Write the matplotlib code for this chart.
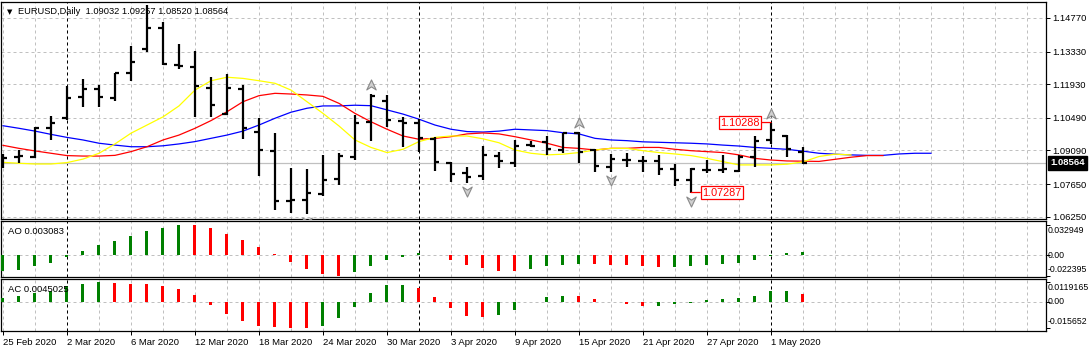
import numpy as np
import matplotlib
matplotlib.use("Agg")
import matplotlib.pyplot as plt
from matplotlib.path import Path
from matplotlib.transforms import offset_copy

# ---------------- data ----------------
symbol = "EURUSD,Daily"
date_ticks = [0, 4, 8, 12, 16, 20, 24, 28, 32, 36, 40, 44, 48]
date_labels = ["25 Feb 2020", "2 Mar 2020", "6 Mar 2020", "12 Mar 2020", "18 Mar 2020",
               "24 Mar 2020", "30 Mar 2020", "3 Apr 2020", "9 Apr 2020", "15 Apr 2020",
               "21 Apr 2020", "27 Apr 2020", "1 May 2020"]
month_starts = [4, 26, 48]

opens = [1.0882, 1.0882, 1.0882, 1.1004, 1.1047, 1.1137, 1.1171, 1.1135, 1.1240, 1.1343,
         1.1436, 1.1275, 1.1268, 1.1175, 1.1064, 1.1171, 1.0990, 1.0908, 1.0694, 1.0697,
         1.0722, 1.0786, 1.0882, 1.1032, 1.1122, 1.1035, 1.1025, 1.0957, 1.0854, 1.0811,
         1.0799, 1.0885, 1.0854, 1.0932, 1.0947, 1.0911, 1.0983, 1.0911, 1.0840, 1.0868,
         1.0865, 1.0865, 1.0828, 1.0782, 1.0825, 1.0825, 1.0822, 1.0880, 1.0954, 1.0971,
         1.09032]
highs = [1.0892, 1.0911, 1.1008, 1.1057, 1.1185, 1.1214, 1.1190, 1.1243, 1.1357, 1.1533,
         1.1461, 1.1366, 1.1336, 1.1223, 1.1237, 1.1190, 1.1050, 1.0985, 1.0832, 1.0829,
         1.0890, 1.0897, 1.1061, 1.1153, 1.1147, 1.1054, 1.1043, 1.0968, 1.0861, 1.0837,
         1.0928, 1.0904, 1.0954, 1.0951, 1.0971, 1.0985, 1.0990, 1.0914, 1.0893, 1.0897,
         1.0885, 1.0890, 1.0851, 1.0832, 1.0868, 1.0890, 1.0890, 1.0971, 1.10288, 1.0975,
         1.09257]
lows = [1.0832, 1.0857, 1.0875, 1.0954, 1.1040, 1.1094, 1.1097, 1.1121, 1.1208, 1.1333,
        1.1275, 1.1258, 1.1054, 1.1054, 1.1061, 1.0957, 1.0801, 1.0654, 1.0642, 1.0636,
        1.0714, 1.0762, 1.0868, 1.0950, 1.1011, 1.0925, 1.0904, 1.0822, 1.0775, 1.0768,
        1.0782, 1.0832, 1.0840, 1.0922, 1.0890, 1.0900, 1.0857, 1.0818, 1.0815, 1.0840,
        1.0818, 1.0804, 1.0757, 1.07287, 1.0814, 1.0814, 1.0818, 1.0837, 1.0937, 1.0882,
        1.08520]
closes = [1.0878, 1.0885, 1.1004, 1.1025, 1.1133, 1.1171, 1.1137, 1.1240, 1.1287, 1.1436,
          1.1280, 1.1271, 1.1186, 1.1104, 1.1178, 1.1004, 1.0911, 1.0694, 1.0697, 1.0725,
          1.0784, 1.0885, 1.1028, 1.1142, 1.1040, 1.1025, 1.0961, 1.0861, 1.0807, 1.0797,
          1.0890, 1.0864, 1.0928, 1.0930, 1.0914, 1.0982, 1.0904, 1.0842, 1.0871, 1.0868,
          1.0865, 1.0828, 1.0782, 1.0828, 1.0825, 1.0828, 1.0880, 1.0951, 1.0997, 1.0914,
          1.08564]

# Alligator lines (they extend past the last bar)
jaw = [1.1015, 1.1004, 1.0992, 1.0978, 1.0965, 1.0954, 1.0940, 1.0932, 1.0925, 1.0925,
       1.0929, 1.0937, 1.0947, 1.0961, 1.0975, 1.0992, 1.1018, 1.1047, 1.1073, 1.1090,
       1.1100, 1.1100, 1.1103, 1.1101, 1.1083, 1.1065, 1.1043, 1.1018, 1.1000, 1.0990,
       1.0988, 1.0992, 1.1000, 1.0997, 1.0994, 1.0985, 1.0980, 1.0961, 1.0954, 1.0951,
       1.0946, 1.0944, 1.0942, 1.0940, 1.0937, 1.0932, 1.0928, 1.0922, 1.0918, 1.0914,
       1.0906, 1.0897, 1.0893, 1.0890, 1.0888, 1.0888, 1.0894, 1.0897, 1.0897]
teeth = [1.0931, 1.0918, 1.0907, 1.0897, 1.0887, 1.0885, 1.0885, 1.0888, 1.0904, 1.0925,
         1.0954, 1.0975, 1.1004, 1.1037, 1.1075, 1.1118, 1.1144, 1.1154, 1.1151, 1.1147,
         1.1141, 1.1111, 1.1068, 1.1032, 1.1000, 1.0971, 1.0957, 1.0961, 1.0968, 1.0980,
         1.0984, 1.0980, 1.0968, 1.0954, 1.0940, 1.0922, 1.0918, 1.0911, 1.0918, 1.0918,
         1.0922, 1.0922, 1.0914, 1.0908, 1.0904, 1.0900, 1.0890, 1.0875, 1.0868, 1.0864,
         1.0863, 1.0862, 1.0871, 1.0880, 1.0887, 1.0887]
lips = [1.0858, 1.0854, 1.0851, 1.0851, 1.0857, 1.0872, 1.0897, 1.0937, 1.0983, 1.1018,
        1.1053, 1.1100, 1.1168, 1.1208, 1.1223, 1.1218, 1.1208, 1.1197, 1.1168, 1.1118,
        1.1068, 1.1014, 1.0954, 1.0922, 1.0900, 1.0914, 1.0947, 1.0965, 1.0971, 1.0971,
        1.0959, 1.0942, 1.0911, 1.0897, 1.0890, 1.0893, 1.0900, 1.0911, 1.0918, 1.0918,
        1.0908, 1.0900, 1.0894, 1.0887, 1.0875, 1.0861, 1.0847, 1.0847, 1.0847, 1.0850,
        1.0860, 1.0883, 1.0893, 1.0890]

ao = [-0.0172, -0.0154, -0.0111, -0.0079, -0.0015, 0.0047, 0.0115, 0.0154, 0.0208, 0.0261,
      0.0294, 0.032949, 0.0325, 0.0294, 0.0229, 0.0165, 0.0090, 0.0018, -0.0072, -0.0147,
      -0.0205, -0.022395, -0.0175, -0.0111, -0.0050, -0.0018, 0.0020, 0.0004, -0.0050, -0.0104,
      -0.0136, -0.0168, -0.0170, -0.0147, -0.0115, -0.0104, -0.0093, -0.0094, -0.0105, -0.0106,
      -0.0115, -0.0125, -0.0123, -0.0115, -0.0104, -0.0093, -0.0082, -0.0050, -0.0005, 0.0020,
      0.003083]
ac = [0.0024, 0.0036, 0.0054, 0.0068, 0.0094, 0.0108, 0.0119165, 0.0117, 0.0108, 0.0106,
      0.0098, 0.0078, 0.0042, -0.0018, -0.0072, -0.0114, -0.0144, -0.0152, -0.0155, -0.015652,
      -0.0142, -0.0096, -0.0030, 0.0054, 0.0102, 0.0103, 0.0084, 0.0030, -0.0036, -0.0084,
      -0.0090, -0.0078, -0.0048, 0.0003, 0.0030, 0.0036, 0.0035, 0.0018, -0.0002, -0.0012,
      -0.0024, -0.0022, -0.0012, -0.0004, 0.0012, 0.0018, 0.0024, 0.0036, 0.0066, 0.0067,
      0.0045025]

price_ticks = [1.14770, 1.13330, 1.11930, 1.10490, 1.09090, 1.07650, 1.06250]
fractal_up = [9, 23, 36, 48]
fractal_down = [19, 29, 38, 43]
high_mark_bar = 48
low_mark_bar = 43

# ---------------- figure ----------------
plt.rcParams['font.family'] = ['Liberation Sans', 'DejaVu Sans']
plt.rcParams['font.size'] = 6.8

W, H = 1091, 352
fig = plt.figure(figsize=(W / 100, H / 100), dpi=100)
fig.patch.set_facecolor('white')


def rect(l, t, r, b):
    return [l / W, 1 - b / H, (r - l) / W, (b - t) / H]


ax = fig.add_axes(rect(1, 2, 1046, 219))
ax_ao = fig.add_axes(rect(1, 221.3, 1046, 277), sharex=ax)
ax_ac = fig.add_axes(rect(1, 279, 1046, 331.3), sharex=ax)

n = len(opens)
x = np.arange(n)
px = 1 / 16.0  # one pixel in bar units

grid_kw = dict(color='#c0c0c0', lw=0.72, dashes=(3, 3))
sep_kw = dict(color='black', lw=0.72, dashes=(3, 3))

for a in (ax, ax_ao, ax_ac):
    a.set_facecolor('white')
    for s in a.spines.values():
        s.set_color('black')
        s.set_linewidth(0.9)
    a.set_xlim(-2 * px, 65.19)
    a.set_xticks(date_ticks)
    a.set_xticks(np.arange(0, 66, 2), minor=True)
    a.tick_params(axis='x', which='minor', length=0)
    a.grid(True, which='both', axis='x', zorder=0, **grid_kw)
    a.set_axisbelow(True)
    for m in month_starts:
        a.axvline(m, zorder=1, **sep_kw)
    a.yaxis.tick_right()
    a.tick_params(axis='y', which='major', length=3, width=0.72, direction='out',
                  pad=1.5, labelsize=6.8, colors='black')

# ---- main price panel ----
ax.set_ylim(1.06151, 1.15456)
ax.set_yticks(price_ticks)
ax.set_yticklabels([f"{v:.5f}" for v in price_ticks])
ax.grid(True, axis='y', zorder=0, **grid_kw)

ax.axhline(closes[-1], color='#c0c0c0', lw=0.9, zorder=1)

ax.plot(np.arange(len(jaw)), jaw, color='#0000ff', lw=0.9, zorder=2)
ax.plot(np.arange(len(teeth)), teeth, color='#ff0000', lw=0.9, zorder=2)
ax.plot(np.arange(len(lips)), lips, color='#ffff00', lw=0.9, zorder=2)

ax.vlines(x, lows, highs, color='black', lw=1.6, zorder=3)
ax.hlines(opens, x - 4.5 * px, x, color='black', lw=1.6, zorder=3)
ax.hlines(closes, x, x + 4.5 * px, color='black', lw=1.6, zorder=3)

# fractal arrows
up_path = Path([(0, 1), (0.85, -0.8), (0, -0.25), (-0.85, -0.8), (0, 1)],
               [Path.MOVETO, Path.LINETO, Path.LINETO, Path.LINETO, Path.CLOSEPOLY])
down_path = Path([(0, -1), (0.85, 0.8), (0, 0.25), (-0.85, 0.8), (0, -1)],
                 [Path.MOVETO, Path.LINETO, Path.LINETO, Path.LINETO, Path.CLOSEPOLY])
tr_up = offset_copy(ax.transData, fig=fig, x=0, y=9, units='dots')
tr_dn = offset_copy(ax.transData, fig=fig, x=0, y=-8, units='dots')
ax.plot(fractal_up, [highs[i] for i in fractal_up], transform=tr_up, ls='none',
        marker=up_path, ms=8, mfc='#d0d0d0', mec='#8a8a8a', mew=0.8, zorder=4, clip_on=True)
ax.plot(fractal_down, [lows[i] for i in fractal_down], transform=tr_dn, ls='none',
        marker=down_path, ms=8, mfc='#d0d0d0', mec='#8a8a8a', mew=0.8, zorder=4, clip_on=True)

# high / low markers
ax.annotate(f"{highs[high_mark_bar]:.5f}", xy=(high_mark_bar, highs[high_mark_bar]),
            xytext=(-11, 0), textcoords='offset pixels', ha='right', va='center',
            color='#ff0000', fontsize=7.8,
            bbox=dict(boxstyle='square,pad=0.12', fc='white', ec='#ff0000', lw=0.9),
            arrowprops=dict(arrowstyle='-', color='#ff0000', lw=0.9, shrinkA=0, shrinkB=0),
            zorder=5)
ax.annotate(f"{lows[low_mark_bar]:.5f}", xy=(low_mark_bar, lows[low_mark_bar]),
            xytext=(11, 0), textcoords='offset pixels', ha='left', va='center',
            color='#ff0000', fontsize=7.8,
            bbox=dict(boxstyle='square,pad=0.12', fc='white', ec='#ff0000', lw=0.9),
            arrowprops=dict(arrowstyle='-', color='#ff0000', lw=0.9, shrinkA=0, shrinkB=0),
            zorder=5)

# current price box on the right scale
ax.annotate(f"{closes[-1]:.5f}", xy=(1, closes[-1]), xycoords=('axes fraction', 'data'),
            xytext=(4, 0), textcoords='offset pixels', ha='left', va='center',
            color='white', fontsize=6.8, fontweight='bold', annotation_clip=False,
            bbox=dict(boxstyle='square,pad=0.25', fc='black', ec='black'))

ax.tick_params(axis='x', which='major', length=0, labelbottom=False)

# ---- AO panel ----
ao_arr = np.array(ao)
ao_col = ['#008000'] + ['#008000' if d > 0 else '#ff0000' for d in np.diff(ao_arr)]
ax_ao.bar(x, ao_arr, width=3 * px, color=ao_col, zorder=3)
ax_ao.set_ylim(-0.02331, 0.03652)
ax_ao.axhline(0, zorder=0, **grid_kw)
ax_ao.set_yticks([ao_arr.max(), 0, ao_arr.min()])
ax_ao.set_yticklabels([])
ax_ao.tick_params(axis='x', which='major', length=0, labelbottom=False)

# ---- AC panel ----
ac_arr = np.array(ac)
ac_col = ['#008000'] + ['#008000' if d > 0 else '#ff0000' for d in np.diff(ac_arr)]
ax_ac.bar(x, ac_arr, width=3 * px, color=ac_col, zorder=3)
ax_ac.set_ylim(-0.01758, 0.0138)
ax_ac.axhline(0, zorder=0, **grid_kw)
ax_ac.set_yticks([ac_arr.max(), 0, ac_arr.min()])
ax_ac.set_yticklabels([])
ax_ac.set_xticks(date_ticks, date_labels, ha='left')
ax_ac.tick_params(axis='x', which='major', length=3, width=0.72, pad=1.5,
                  labelsize=6.8, direction='out')

for a, vals, fmts in ((ax_ao, ao_arr, ("{:.6f}", "{:.2f}", "{:.6f}")),
                      (ax_ac, ac_arr, ("{:.7f}", "{:.2f}", "{:.6f}"))):
    for v, f, va, dy in ((vals.max(), fmts[0], 'top', -1), (0.0, fmts[1], 'center', 0),
                         (vals.min(), fmts[2], 'bottom', 2)):
        a.annotate(f.format(v), xy=(1, v), xycoords=('axes fraction', 'data'),
                   xytext=(2, dy), textcoords='offset pixels', ha='left', va=va,
                   fontsize=6.3, annotation_clip=False)

# ---- header texts ----
ax.text(0.006, 0.955, '\u25bc', transform=ax.transAxes, family='DejaVu Sans',
        fontsize=5, va='center', ha='left')
ax.text(0.0165, 0.955,
        f"{symbol}  {opens[-1]:.5f} {highs[-1]:.5f} {lows[-1]:.5f} {closes[-1]:.5f}",
        transform=ax.transAxes, fontsize=6.7, va='center', ha='left', zorder=6)
ax_ao.text(0.007, 0.82, f"AO {ao_arr[-1]:.6f}", transform=ax_ao.transAxes,
           fontsize=6.8, va='center', ha='left', zorder=6)
ax_ac.text(0.007, 0.80, f"AC {ac_arr[-1]:.7f}", transform=ax_ac.transAxes,
           fontsize=6.8, va='center', ha='left', zorder=6)

fig.savefig('out.png', dpi=100, facecolor='white')
